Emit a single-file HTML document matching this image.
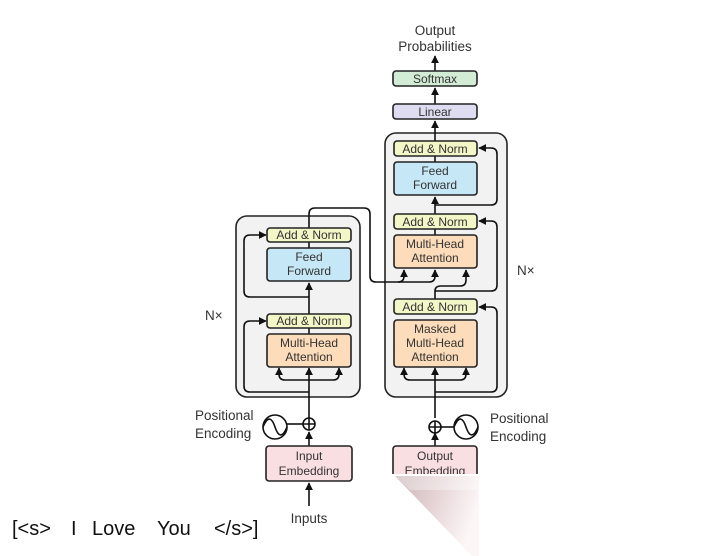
<!DOCTYPE html>
<html><head><meta charset="utf-8"><style>
html,body{margin:0;padding:0;background:#fff;}
svg{display:block;}
text{font-family:"Liberation Sans",sans-serif;fill:#333;}
</style></head><body>
<svg width="716" height="556" viewBox="0 0 716 556" xmlns="http://www.w3.org/2000/svg">
<defs>
<marker id="a" viewBox="0 0 10 10" refX="9" refY="5" markerWidth="5" markerHeight="5" orient="auto"><path d="M0,0 L10,5 L0,10 z" fill="#111"/></marker>
<linearGradient id="sh" x1="0" y1="0" x2="1" y2="0.3"><stop offset="0" stop-color="#b89a9c"/><stop offset="0.5" stop-color="#dcc4c6"/><stop offset="1" stop-color="#fbf3f3"/></linearGradient>
</defs>
<rect x="236" y="216" width="124" height="181" rx="11" fill="#f2f2f2" stroke="#222" stroke-width="1.6"/>
<rect x="385" y="133" width="122" height="264" rx="11" fill="#f2f2f2" stroke="#222" stroke-width="1.6"/>
<g fill="none" stroke="#111" stroke-width="1.6">
<path d="M309 506 V483" marker-end="url(#a)"/>
<path d="M309 446 V432" marker-end="url(#a)"/>
<path d="M309 418 V368" marker-end="url(#a)"/>
<path d="M309 380 H285 Q279 380 279 374 V368" marker-end="url(#a)"/>
<path d="M309 380 H333 Q339 380 339 374 V368" marker-end="url(#a)"/>
<path d="M309 334 V328"/>
<path d="M309 314 V283" marker-end="url(#a)"/>
<path d="M309 248 V242"/>
<path d="M309 392 H250 Q244 392 244 386 V327 Q244 321 250 321 H266" marker-end="url(#a)"/>
<path d="M309 297 H250 Q244 297 244 291 V241 Q244 235 250 235 H266" marker-end="url(#a)"/>
<path d="M309 228 V214 Q309 208 315 208 H364 Q370 208 370 214 V276 Q370 282 376 282 H398 Q404 282 404 276 V270" marker-end="url(#a)"/>
<path d="M398 282 H429 Q435 282 435 276 V270" marker-end="url(#a)"/>
<path d="M435 418 V368" marker-end="url(#a)"/>
<path d="M435 380 H410 Q404 380 404 374 V368" marker-end="url(#a)"/>
<path d="M435 380 H460 Q466 380 466 374 V368" marker-end="url(#a)"/>
<path d="M435 299 V291 Q435 286 441 286 H460 Q466 286 466 280 V270" marker-end="url(#a)"/>
<path d="M435 235 V229"/>
<path d="M435 214 V197" marker-end="url(#a)"/>
<path d="M435 162 V156"/>
<path d="M435 141 V121" marker-end="url(#a)"/>
<path d="M435 104 V88" marker-end="url(#a)"/>
<path d="M435 71 V56" marker-end="url(#a)"/>
<path d="M435 392 H491 Q497 392 497 386 V313 Q497 307 491 307 H479" marker-end="url(#a)"/>
<path d="M435 291 H491 Q497 291 497 285 V227 Q497 221 491 221 H479" marker-end="url(#a)"/>
<path d="M435 205 H491 Q497 205 497 199 V154 Q497 148 491 148 H479" marker-end="url(#a)"/>
<path d="M435 446 V433" marker-end="url(#a)"/>
<circle cx="309" cy="424" r="6"/><path d="M303 424 H315 M309 418 V430"/>
<circle cx="275" cy="427" r="12"/><path d="M263 427 C268 415 272 418 275 427 C278 436 282 439 287 427"/>
<path d="M287 424 H303"/>
<circle cx="435" cy="427" r="6"/><path d="M429 427 H441 M435 421 V433"/>
<circle cx="466" cy="427" r="12"/><path d="M454 427 C459 415 463 418 466 427 C469 436 473 439 478 427"/>
<path d="M441 427 H454"/>
</g>
<g stroke="#222" stroke-width="1.6">
<rect x="267" y="228" width="84" height="14" rx="3" fill="#f3f6c6"/>
<rect x="267" y="248" width="84" height="33" rx="3" fill="#c6e7f6"/>
<rect x="267" y="314" width="84" height="14" rx="3" fill="#f3f6c6"/>
<rect x="267" y="334" width="84" height="33" rx="3" fill="#fcdcba"/>
<rect x="393" y="71" width="84" height="15" rx="3" fill="#d3ecd5"/>
<rect x="393" y="104" width="84" height="15" rx="3" fill="#dddcf1"/>
<rect x="394" y="141" width="83" height="15" rx="3" fill="#f3f6c6"/>
<rect x="394" y="162" width="83" height="33" rx="3" fill="#c6e7f6"/>
<rect x="394" y="214" width="83" height="15" rx="3" fill="#f3f6c6"/>
<rect x="394" y="235" width="83" height="33" rx="3" fill="#fcdcba"/>
<rect x="394" y="299" width="83" height="15" rx="3" fill="#f3f6c6"/>
<rect x="394" y="320" width="83" height="47" rx="3" fill="#fcdcba"/>
<rect x="266" y="446" width="86" height="35" rx="3" fill="#f9dfe2"/>
<rect x="393" y="446" width="84" height="35" rx="3" fill="#f9dfe2"/>
</g>
<g font-size="12" text-anchor="middle">
<text x="309" y="239">Add &amp; Norm</text>
<text x="309" y="261">Feed</text><text x="309" y="275">Forward</text>
<text x="309" y="325">Add &amp; Norm</text>
<text x="309" y="347">Multi-Head</text><text x="309" y="361">Attention</text>
<text x="435" y="83">Softmax</text>
<text x="435" y="116">Linear</text>
<text x="435" y="153">Add &amp; Norm</text>
<text x="435" y="175">Feed</text><text x="435" y="189">Forward</text>
<text x="435" y="226">Add &amp; Norm</text>
<text x="435" y="248">Multi-Head</text><text x="435" y="262">Attention</text>
<text x="435" y="311">Add &amp; Norm</text>
<text x="435" y="333">Masked</text><text x="435" y="347">Multi-Head</text><text x="435" y="361">Attention</text>
<text x="309" y="460">Input</text><text x="309" y="475">Embedding</text>
<text x="435" y="460">Output</text><text x="435" y="475">Embedding</text>
</g>
<g font-size="13.5">
<text x="435" y="35" text-anchor="middle">Output</text>
<text x="435" y="51" text-anchor="middle">Probabilities</text>
<text x="195" y="420">Positional</text><text x="195" y="438">Encoding</text>
<text x="490" y="423">Positional</text><text x="490" y="441">Encoding</text>
<text x="205" y="320">N×</text><text x="517" y="275">N×</text>
<text x="309" y="523" text-anchor="middle">Inputs</text>
</g>
<rect x="392" y="474" width="90" height="82" fill="#fff"/>
<polygon points="395,476 479,476 479,556 472,556" fill="url(#sh)" opacity="0.75"/>
<polygon points="395,476 479,476 479,490 410,490" fill="#fff" opacity="0.35"/>
<g font-size="20">
<text x="12" y="535" style="fill:#111">[&lt;s&gt;</text>
<text x="71" y="535" style="fill:#111">I</text>
<text x="92" y="535" style="fill:#111">Love</text>
<text x="157" y="535" style="fill:#111">You</text>
<text x="214" y="535" style="fill:#111">&lt;/s&gt;]</text>
</g>
</svg>
</body></html>
